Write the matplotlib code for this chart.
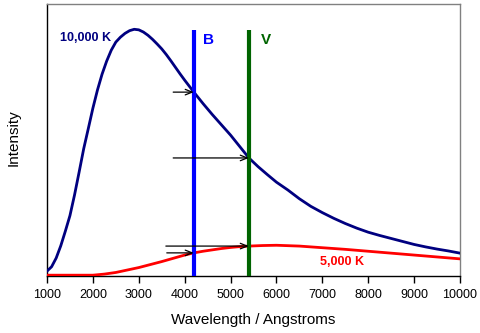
import numpy as np
import matplotlib
matplotlib.use("Agg")
import matplotlib.pyplot as plt

plt.rcParams['font.family'] = ['Liberation Sans', 'DejaVu Sans']

# Blackbody intensity (relative units) against wavelength, 10,000 K
wave_hot = [1000, 1100, 1200, 1300, 1400, 1500, 1600, 1700, 1800, 1900,
            2000, 2100, 2200, 2300, 2400, 2500, 2600, 2700, 2800, 2900,
            3000, 3100, 3200, 3300, 3400, 3500, 3600, 3700, 3800, 3900,
            4000, 4100, 4200, 4300, 4400, 4500, 4600, 4700, 4800, 4900,
            5000, 5100, 5200, 5300, 5400, 5600, 5800, 6000, 6250, 6500,
            6750, 7000, 7250, 7500, 7750, 8000, 8250, 8500, 8750, 9000,
            9250, 9500, 9750, 10000]
int_hot = [0.018, 0.034, 0.066, 0.111, 0.165, 0.222, 0.298, 0.382, 0.468, 0.542,
           0.617, 0.684, 0.742, 0.790, 0.830, 0.860, 0.878, 0.892, 0.902, 0.907,
           0.905, 0.897, 0.885, 0.870, 0.853, 0.835, 0.814, 0.791, 0.767, 0.743,
           0.720, 0.698, 0.676, 0.655, 0.634, 0.614, 0.594, 0.575, 0.556, 0.537,
           0.518, 0.497, 0.476, 0.455, 0.434, 0.402, 0.373, 0.345, 0.316, 0.284,
           0.256, 0.233, 0.212, 0.193, 0.176, 0.161, 0.149, 0.138, 0.127, 0.116,
           0.107, 0.099, 0.092, 0.084]

# same, 5,000 K (scaled up to share the axis)
wave_cool = [1000, 1500, 2000, 2250, 2500, 2750, 3000, 3250, 3500, 3750,
             4000, 4200, 4400, 4600, 4800, 5000, 5200, 5400, 5700, 6000,
             6500, 7000, 7500, 8000, 8500, 9000, 9500, 10000]
int_cool = [0.003, 0.003, 0.003, 0.007, 0.013, 0.022, 0.031, 0.042, 0.053, 0.065,
            0.077, 0.085, 0.091, 0.096, 0.101, 0.105, 0.108, 0.110, 0.112, 0.113,
            0.110, 0.104, 0.098, 0.091, 0.084, 0.077, 0.070, 0.063]

# filter bands
band_B = 4200
band_V = 5400
band_top = 0.905

# arrow tail wavelengths: (curve, band) -> start
arrow_tails = {('hot', 'B'): 3750, ('hot', 'V'): 3750,
               ('cool', 'B'): 3610, ('cool', 'V'): 3590}

xticks = [1000, 2000, 3000, 4000, 5000, 6000, 7000, 8000, 9000, 10000]

navy = '#000080'
red = '#ff0000'
blue = '#0000ff'
green = '#006400'

W, H = 481, 333
fig = plt.figure(figsize=(W / 100, H / 100), dpi=100)
ax = fig.add_axes([47 / W, (H - 276) / H, 413 / W, 272 / H])

ax.plot(wave_hot, int_hot, color=navy, lw=2.0, zorder=3)
ax.plot(wave_cool, int_cool, color=red, lw=2.0, zorder=3)

ax.vlines(band_B, 0, band_top, color=blue, lw=3.0, zorder=4)
ax.vlines(band_V, 0, band_top, color=green, lw=3.0, zorder=4)

curves = {'hot': (wave_hot, int_hot), 'cool': (wave_cool, int_cool)}
bands = {'B': band_B, 'V': band_V}
for (cname, bname), x0 in arrow_tails.items():
    w, v = curves[cname]
    xb = bands[bname]
    yb = v[w.index(xb)]
    ax.annotate('', xy=(xb, yb), xytext=(x0, yb),
                arrowprops=dict(arrowstyle='->,head_length=0.5,head_width=0.2',
                                color='black', lw=0.9, shrinkA=0, shrinkB=0),
                zorder=5)

ax.text(1283, 0.875, '10,000 K', color=navy, fontsize=9, fontweight='bold',
        ha='left', va='center')
ax.text(6949, 0.051, '5,000 K', color=red, fontsize=9, fontweight='bold',
        ha='left', va='center')
ax.text(4400, 0.868, 'B', color=blue, fontsize=11, fontweight='bold',
        ha='left', va='center')
ax.text(5657, 0.868, 'V', color=green, fontsize=11, fontweight='bold',
        ha='left', va='center')

ax.set_xlim(1000, 10000)
ax.set_ylim(0, 1)
ax.set_xticks(xticks)
ax.set_xticklabels([str(t) for t in xticks], fontsize=9)
ax.set_yticks([])
ax.tick_params(axis='x', direction='out', length=5, width=1, pad=4)

for side in ('top', 'right'):
    ax.spines[side].set_color('#808080')
for side in ('left', 'bottom'):
    ax.spines[side].set_color('black')
for s in ax.spines.values():
    s.set_linewidth(1.0)

fig.text(14 / W, 1 - 138 / H, 'Intensity', rotation=90, fontsize=11,
         ha='center', va='center')
fig.text(253 / W, 1 - 320 / H, 'Wavelength / Angstroms', fontsize=11,
         ha='center', va='center')

fig.savefig('out.png', dpi=100)
